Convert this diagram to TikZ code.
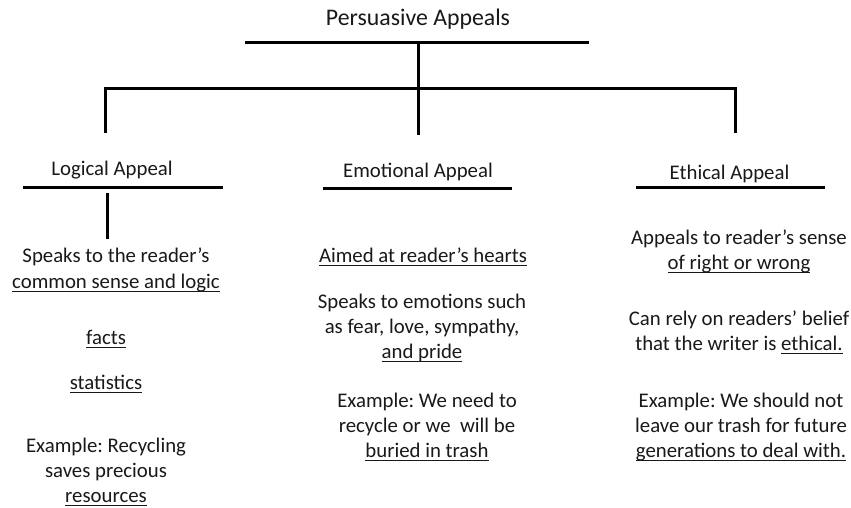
\documentclass[tikz,border=0pt]{standalone}
\usepackage{fontspec}
\setmainfont{Carlito}
\frenchspacing
\newcommand{\myul}[1]{\setbox0\hbox{#1}\rlap{\rule[-3.5pt]{\wd0}{1pt}}\box0}
\begin{document}
\begin{tikzpicture}[x=1pt,y=-1pt,
  bar/.style={line width=3pt,black},
  body/.style={align=center,inner sep=0pt,font=\fontsize{20.8}{25.4}\selectfont\frenchspacing,text=black!90},
  head/.style={inner sep=0pt,font=\fontsize{20.8}{25.4}\selectfont,text=black!90},
  ttl/.style={inner sep=0pt,font=\fontsize{23.8}{28}\selectfont,text=black!90}]
\useasboundingbox[fill=white] (0,0) rectangle (851,507);
% title and bars
\node[ttl] (title) at (418,19.5) {Persuasive Appeals};
\coordinate (tl) at (245,42);
\coordinate (tr) at (589,42);
\coordinate (tm) at (418,42);
\coordinate (tb) at (418,135);
\coordinate (hl) at (105,88);
\coordinate (hr) at (735,88);
\coordinate (ll) at (105,133);
\coordinate (rr) at (735,133);
\draw[bar] (tl) -- (tr);
\draw[bar] (tm) -- (tb);
\draw[bar] (ll) -- (hl) -- (hr) -- (rr);
% headings
\node[head] (log) at (112,170.5) {Logical Appeal};
\node[head] (emo) at (418,171.5) {Emotional Appeal};
\node[head] (eth) at (729.5,173.5) {Ethical Appeal};
\coordinate (logA) at (23,187);
\coordinate (logB) at (223,187);
\coordinate (emoA) at (323,188);
\coordinate (emoB) at (512,188);
\coordinate (ethA) at (636,187);
\coordinate (ethB) at (825,187);
\draw[bar] (logA) -- (logB);
\draw[bar] (emoA) -- (emoB);
\draw[bar] (ethA) -- (ethB);
\coordinate (lv1) at (107,193);
\coordinate (lv2) at (107,239);
\draw[bar] (lv1) -- (lv2);
% left column
\node[body] (l1) at (116,270) {Speaks to the reader’s\\\myul{common sense and logic}};
\node[body] (l2) at (106,339) {\myul{facts}};
\node[body] (l3) at (106,384) {\myul{statistics}};
\node[body] (l4) at (106,472) {Example: Recycling\\saves precious\\\myul{resources}};
% middle column
\node[body] (m1) at (423,257) {\myul{Aimed at reader’s hearts}};
\node[body] (m2) at (422,328) {Speaks to emotions such\\as fear, love, sympathy,\\\myul{and pride}};
\node[body] (m3) at (427,427) {Example: We need to\\recycle or we~ will be\\\myul{buried in trash}};
% right column
\node[body] (r1) at (739,251.5) {Appeals to reader’s sense\\\myul{of right or wrong}};
\node[body] (r2) at (739,332.5) {Can rely on readers’ belief\\that the writer is \myul{ethical.}};
\node[body] (r3) at (741,427) {Example: We should not\\leave our trash for future\\\myul{generations to deal with.}};
\end{tikzpicture}
\end{document}
